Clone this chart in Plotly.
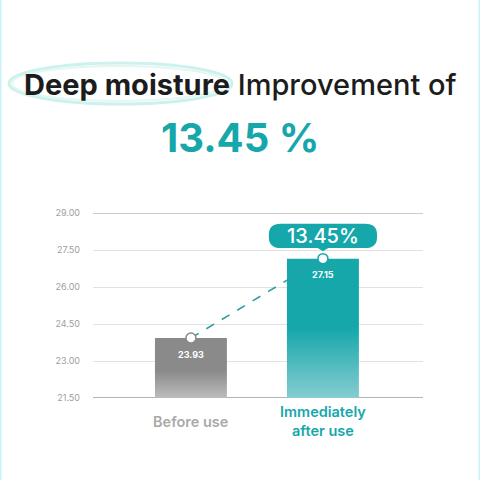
import plotly.graph_objects as go

categories = ["Before use", "Immediately<br>after use"]
values = [23.93, 27.15]
value_labels = ["23.93", "27.15"]
improvement_label = "13.45%"
y_ticks = [21.5, 23.0, 24.5, 26.0, 27.5, 29.0]

TEAL = "#16a7ab"
GRAY_TOP = "#8a8a8a"
GRAY_BOT = "#bdbdbd"
TEAL_BOT = "#86cdd0"
Y0, Y1 = 21.5, 29.0
BAR_W = 0.545
xs = list(range(len(categories)))

# pixel helpers for paper coordinates (plot area 93..423 x 213..398)
def px(xp):
    return (xp - 93) / 330

def py(yp):
    return (398 - yp) / 185

fig = go.Figure()

# gradient bars as filled polygons
bar_scales = [[[0, GRAY_BOT], [0.45, GRAY_TOP], [1, GRAY_TOP]],
              [[0, TEAL_BOT], [0.5, TEAL], [1, TEAL]]]
for i, v in enumerate(values):
    x0, x1 = xs[i] - BAR_W / 2, xs[i] + BAR_W / 2
    fig.add_trace(go.Scatter(
        x=[x0, x1, x1, x0, x0], y=[Y0, Y0, v, v, Y0],
        mode="lines", line=dict(width=0), fill="toself",
        fillgradient=dict(type="vertical", colorscale=bar_scales[i], start=Y0, stop=v),
        hoverinfo="skip", showlegend=False))

# dashed connector
fig.add_trace(go.Scatter(x=xs, y=values, mode="lines",
                         line=dict(color="#2f9d9f", width=1.6, dash="dash"),
                         showlegend=False, hoverinfo="skip"))
fig.add_trace(go.Scatter(x=xs, y=values, mode="markers",
                         marker=dict(size=10, color="white",
                                     line=dict(color=["#8a8a8a", TEAL], width=1.5)),
                         showlegend=False, hoverinfo="skip"))

# value labels inside bars
for i, v in enumerate(values):
    fig.add_annotation(x=xs[i], y=v, text=value_labels[i], showarrow=False,
                       yshift=-16, font=dict(color="white", size=9, family="Inter", weight=700))

# callout bubble above the second bar
cx = xs[1]
v = values[1]
hw = 0.41
rx, ry = 0.09, 0.45
yb, yt = v + 0.43, v + 1.41
path = (f"M {cx-hw+rx},{yb} L {cx-0.04},{yb} L {cx},{v+0.3} L {cx+0.04},{yb} "
        f"L {cx+hw-rx},{yb} Q {cx+hw},{yb} {cx+hw},{yb+ry} L {cx+hw},{yt-ry} "
        f"Q {cx+hw},{yt} {cx+hw-rx},{yt} L {cx-hw+rx},{yt} Q {cx-hw},{yt} {cx-hw},{yt-ry} "
        f"L {cx-hw},{yb+ry} Q {cx-hw},{yb} {cx-hw+rx},{yb} Z")
fig.add_shape(type="path", path=path, xref="x", yref="y",
              fillcolor=TEAL, line=dict(width=0), layer="above")
fig.add_annotation(x=cx, y=(yb + yt) / 2, text=improvement_label, showarrow=False,
                   yanchor="middle", xanchor="center",
                   font=dict(color="white", size=20, family="Inter", weight=500))

# headline highlight (brush-like ellipse)
fig.add_shape(type="circle", xref="paper", yref="paper",
              x0=px(9), x1=px(232), y0=py(104), y1=py(63),
              line=dict(color="#cdf1ec", width=3), layer="below")
fig.add_shape(type="circle", xref="paper", yref="paper",
              x0=px(12), x1=px(226), y0=py(101), y1=py(66),
              line=dict(color="#e0f7f3", width=2), layer="below")
fig.add_annotation(xref="paper", yref="paper", x=px(240), y=py(84),
                   xanchor="center", yanchor="middle",
                   text="<b>Deep moisture</b> Improvement of", showarrow=False,
                   font=dict(color="#1c1c1c", size=29, family="Inter", weight=500))
fig.add_annotation(xref="paper", yref="paper", x=px(240), y=py(137),
                   xanchor="center", yanchor="middle",
                   text="<b>13.45 %</b>", showarrow=False,
                   font=dict(color=TEAL, size=40, family="Inter"))

# category labels
label_colors = ["#a9a9a9", TEAL]
label_y = [421, 421]
for i, (c, t) in enumerate(zip(label_colors, categories)):
    fig.add_annotation(x=xs[i], xref="x", yref="paper", y=py(label_y[i]),
                       xanchor="center", yanchor="middle", text=t, showarrow=False,
                       font=dict(color=c, size=14.5, family="Inter", weight=600))

# side borders
for xp in [0.5, 479.5]:
    fig.add_shape(type="line", xref="paper", yref="paper",
                  x0=px(xp), x1=px(xp), y0=py(480), y1=py(0),
                  line=dict(color="#c8f4f8", width=2))

# baseline and top line
fig.add_shape(type="line", xref="paper", yref="y", x0=0, x1=1, y0=Y0, y1=Y0,
              line=dict(color="#9a9a9a", width=1.5), layer="below")
fig.add_shape(type="line", xref="paper", yref="y", x0=0, x1=1, y0=Y1, y1=Y1,
              line=dict(color="#bdbdbd", width=1.5), layer="below")

fig.update_layout(
    width=480, height=480,
    margin=dict(l=93, r=57, t=213, b=82),
    paper_bgcolor="white", plot_bgcolor="white",
    showlegend=False,
    xaxis=dict(range=[-0.742, 1.758], tickvals=xs, showticklabels=False,
               showgrid=False, zeroline=False, showline=False, ticks=""),
    yaxis=dict(range=[Y0, Y1], tickvals=y_ticks, ticktext=[f"{t:.2f}" for t in y_ticks],
               showgrid=True, gridcolor="#e2e2e2", gridwidth=1, zeroline=False,
               ticks="", tickfont=dict(size=9, color="#a0a0a0", family="Inter"),
               ticklabelstandoff=12),
)

fig.write_html("out.html")
